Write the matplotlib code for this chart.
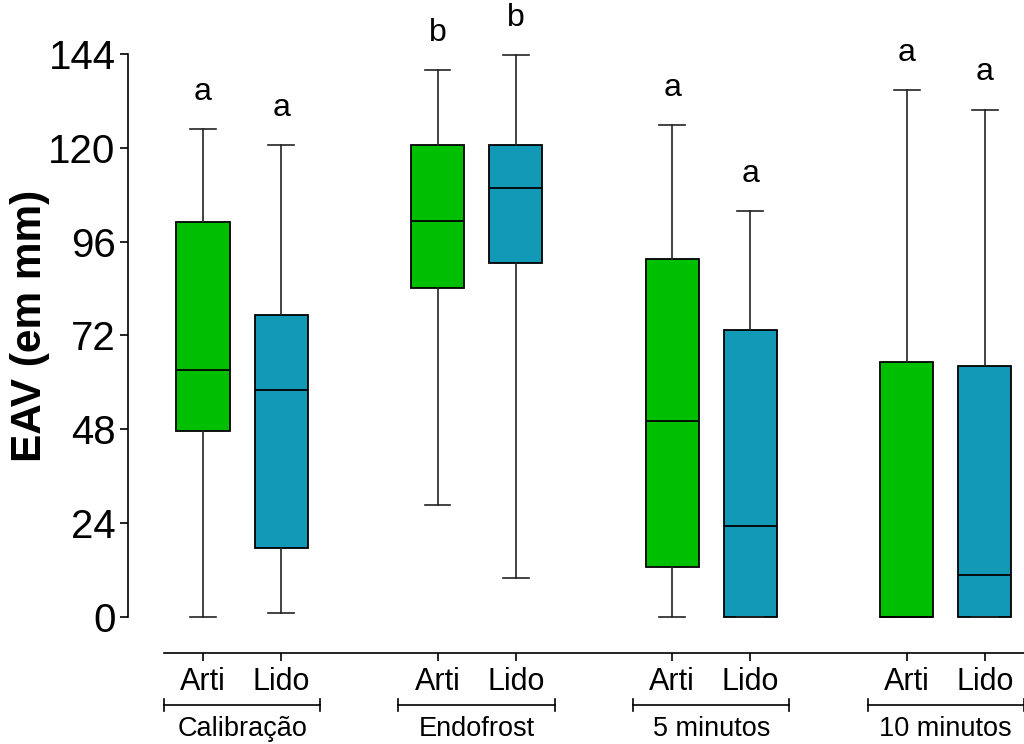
import matplotlib.pyplot as plt
import matplotlib.transforms as mtransforms
import numpy as np

plt.rcParams['font.family'] = ['Liberation Sans', 'DejaVu Sans']

groups = ['Calibração', 'Endofrost', '5 minutos', '10 minutos']
series = ['Arti', 'Lido']

# box stats per box, in order Arti/Lido for each group
whis_lo = [0.0, 1.0, 28.6, 9.9, 0.0, 0.0, 0.0, 0.0]
q1 = [47.5, 17.6, 84.2, 90.6, 12.7, 0.0, 0.0, 0.0]
med = [63.1, 58.0, 101.4, 109.8, 50.1, 23.2, 0.0, 10.7]
q3 = [101.0, 77.2, 120.8, 120.8, 91.6, 73.4, 65.2, 64.2]
whis_hi = [124.8, 120.8, 140.0, 143.7, 125.9, 103.9, 134.8, 129.8]
letters = ['a', 'a', 'b', 'b', 'a', 'a', 'a', 'a']

colors = {'Arti': '#00BF00', 'Lido': '#1199B5'}

# positions: two boxes per group, one empty slot between groups
positions = []
for g in range(len(groups)):
    for s in range(len(series)):
        positions.append(1 + 3 * g + s)

stats = []
for i in range(len(med)):
    stats.append({'med': med[i], 'q1': q1[i], 'q3': q3[i],
                  'whislo': whis_lo[i], 'whishi': whis_hi[i], 'fliers': []})

fig = plt.figure(figsize=(10.24, 7.44), dpi=100)
ax = fig.add_axes([0.125, 0.1223, 0.875, 0.8363])

bp = ax.bxp(stats, positions=positions, widths=0.68, capwidths=0.33,
            patch_artist=True, showfliers=False,
            boxprops=dict(edgecolor='black', linewidth=1.3),
            medianprops=dict(color='black', linewidth=1.3),
            whiskerprops=dict(color='#222222', linewidth=1.2),
            capprops=dict(color='#222222', linewidth=1.2))

for i, box in enumerate(bp['boxes']):
    box.set_facecolor(colors[series[i % 2]])

# significance letters above the whiskers
for i, lt in enumerate(letters):
    ax.annotate(lt, (positions[i], whis_hi[i]), xytext=(0, 16),
                textcoords='offset points', ha='center', va='bottom',
                fontsize=23, annotation_clip=False)

ax.set_xlim(0.041, 11.5)
ax.set_ylim(-9.3, 150)

ax.spines['top'].set_visible(False)
ax.spines['right'].set_visible(False)
ax.spines['left'].set_bounds(0, 144)
ax.spines['bottom'].set_bounds(0.5, 11.5)
ax.spines['left'].set_linewidth(1.2)
ax.spines['bottom'].set_linewidth(1.2)

ax.set_yticks(np.arange(0, 145, 24))
ax.tick_params(axis='y', labelsize=29, length=6, width=1.2, pad=3)
ax.set_xticks(positions)
ax.set_xticklabels([series[i % 2] for i in range(len(positions))])
ax.tick_params(axis='x', labelsize=22, length=6, width=1.2, pad=4)

ax.set_ylabel('EAV (em mm)', fontsize=30.5, fontweight='bold')
ax.yaxis.set_label_coords(-0.087, 0.526)

# group brackets and names under the tick labels
trans = mtransforms.blended_transform_factory(ax.transData, ax.transAxes)
for g, name in enumerate(groups):
    x0 = 3 * g + 0.5
    x1 = 3 * g + 2.5
    yb = -0.0835
    ax.plot([x0, x1], [yb, yb], transform=trans, color='black', lw=1.2, clip_on=False)
    ax.plot([x0, x0], [yb - 0.009, yb + 0.009], transform=trans, color='black', lw=1.2, clip_on=False)
    ax.plot([x1, x1], [yb - 0.009, yb + 0.009], transform=trans, color='black', lw=1.2, clip_on=False)
    ax.text((x0 + x1) / 2, yb - 0.018, name, transform=trans, ha='center', va='top', fontsize=19.5)

fig.savefig('out.png', dpi=100)
